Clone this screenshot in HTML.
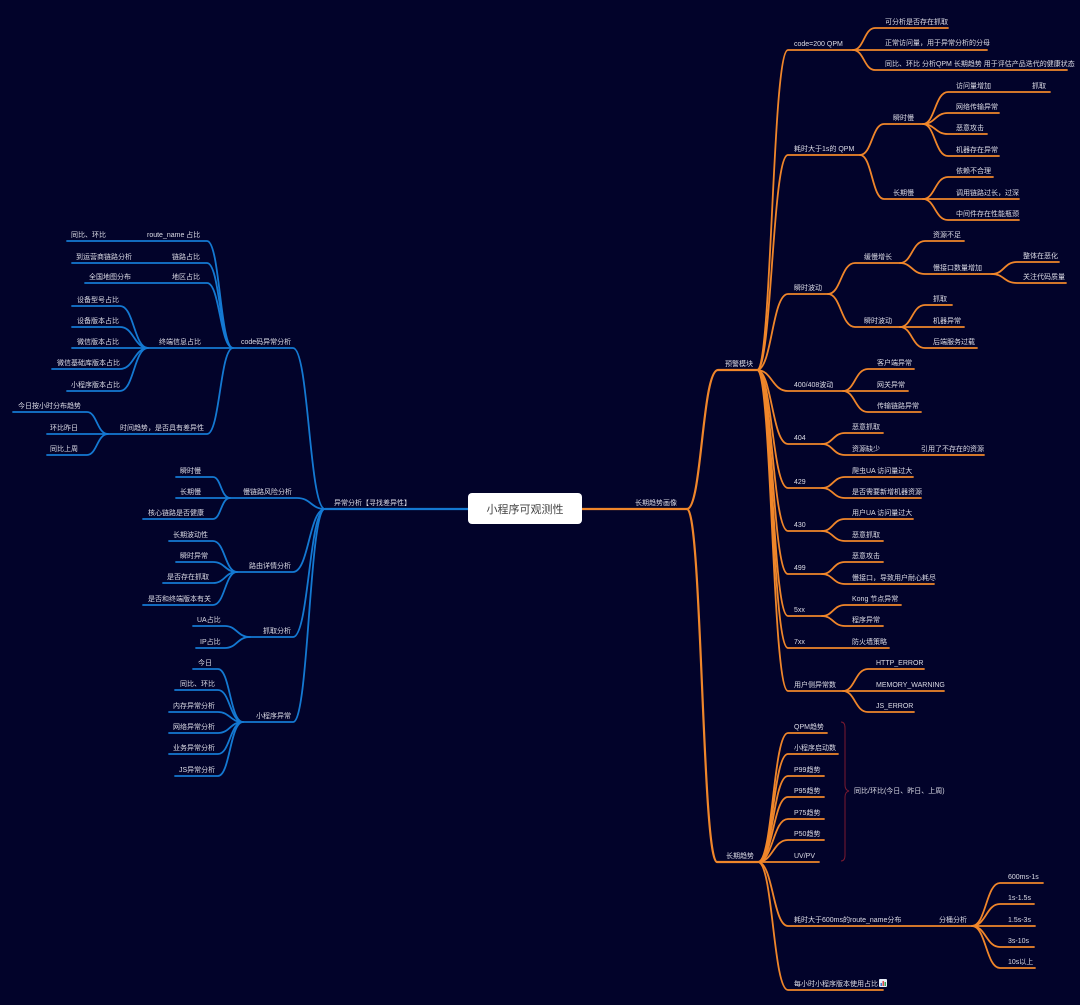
<!DOCTYPE html>
<html><head><meta charset="utf-8">
<style>
html,body{margin:0;padding:0;background:#02032a;}
svg{display:block;}
text{font-family:"Liberation Sans","Noto Sans CJK SC",sans-serif;font-size:7px;fill:#dcdce6;}
.o{fill:none;stroke:#f0862a;stroke-width:1.8;stroke-linecap:round;}
.b{fill:none;stroke:#1479d2;stroke-width:1.8;stroke-linecap:round;}
</style></head>
<body>
<svg width="1080" height="1005" viewBox="0 0 1080 1005" xmlns="http://www.w3.org/2000/svg">
<rect width="1080" height="1005" fill="#02032a"/>

<!-- ORANGE right side -->
<g class="o">
<path d="M582 509 H687" stroke-width="2.2"/>
<path d="M687 509 C702 509 702 370 718 370 H757" stroke-width="2.2"/>
<path d="M687 509 C702 509 702 862 717 862 H758" stroke-width="2.2"/>

<path d="M757 370 C772 370 772 50 788 50 H853"/>
<path d="M757 370 C772 370 772 155 788 155 H860"/>
<path d="M757 370 C772 370 772 294 788 294 H828"/>
<path d="M757 370 C772 370 772 391 788 391 H843"/>
<path d="M757 370 C772 370 772 444 788 444 H822"/>
<path d="M757 370 C772 370 772 488 788 488 H822"/>
<path d="M757 370 C772 370 772 531 788 531 H822"/>
<path d="M757 370 C772 370 772 574 788 574 H822"/>
<path d="M757 370 C772 370 772 616 788 616 H822"/>
<path d="M757 370 C772 370 772 648 788 648 H889"/>
<path d="M757 370 C772 370 772 691 788 691 H843"/>

<path d="M853 50 C864 50 864 28 875 28 H948"/>
<path d="M853 50 H987"/>
<path d="M853 50 C864 50 864 70 875 70 H1067"/>

<path d="M860 155 C872 155 872 124 884 124 H923"/>
<path d="M860 155 C872 155 872 199 884 199 H923"/>
<path d="M923 124 C935 124 935 92 948 92 H1050"/>
<path d="M923 124 C935 124 935 113 948 113 H999"/>
<path d="M923 124 C935 124 935 134 948 134 H987"/>
<path d="M923 124 C935 124 935 156 948 156 H999"/>
<path d="M923 199 C935 199 935 177 948 177 H993"/>
<path d="M923 199 H1019"/>
<path d="M923 199 C935 199 935 220 948 220 H1019"/>

<path d="M828 294 C841 294 841 263 855 263 H900"/>
<path d="M828 294 C841 294 841 327 855 327 H900"/>
<path d="M900 263 C912 263 912 241 925 241 H964"/>
<path d="M900 263 C912 263 912 274 925 274 H992"/>
<path d="M992 274 C1004 274 1004 262 1017 262 H1059"/>
<path d="M992 274 C1004 274 1004 283 1017 283 H1066"/>
<path d="M900 327 C912 327 912 305 925 305 H952"/>
<path d="M900 327 H964"/>
<path d="M900 327 C912 327 912 348 925 348 H977"/>

<path d="M843 391 C855 391 855 369 868 369 H914"/>
<path d="M843 391 H908"/>
<path d="M843 391 C855 391 855 412 868 412 H921"/>

<path d="M822 444 C833 444 833 433 845 433 H883"/>
<path d="M822 444 C833 444 833 455 845 455 H984"/>
<path d="M822 488 C833 488 833 477 845 477 H913"/>
<path d="M822 488 C833 488 833 498 845 498 H921"/>
<path d="M822 531 C833 531 833 519 845 519 H913"/>
<path d="M822 531 C833 531 833 541 845 541 H883"/>
<path d="M822 574 C833 574 833 562 845 562 H883"/>
<path d="M822 574 C833 574 833 584 845 584 H934"/>
<path d="M822 616 C833 616 833 605 845 605 H901"/>
<path d="M822 616 C833 616 833 626 845 626 H883"/>

<path d="M843 691 C855 691 855 669 868 669 H924"/>
<path d="M843 691 H944"/>
<path d="M843 691 C855 691 855 712 868 712 H914"/>

<path d="M758 862 C773 862 773 733 788 733 H827"/>
<path d="M758 862 C773 862 773 754 788 754 H838"/>
<path d="M758 862 C773 862 773 776 788 776 H824"/>
<path d="M758 862 C773 862 773 797 788 797 H824"/>
<path d="M758 862 C773 862 773 819 788 819 H824"/>
<path d="M758 862 C773 862 773 840 788 840 H824"/>
<path d="M758 862 H819"/>
<path d="M758 862 C773 862 773 926 788 926 H972"/>
<path d="M758 862 C773 862 773 990 788 990 H883"/>

<path d="M972 926 C986 926 986 883 1000 883 H1043"/>
<path d="M972 926 C986 926 986 904 1000 904 H1034"/>
<path d="M972 926 H1035"/>
<path d="M972 926 C986 926 986 947 1000 947 H1034"/>
<path d="M972 926 C986 926 986 968 1000 968 H1035"/>
</g>

<!-- brace -->
<path d="M841 722 Q845 722 845 728 L845 785 Q845 790 849 791 Q845 792 845 797 L845 855 Q845 861 841 861" fill="none" stroke="#7a1a30" stroke-width="1"/>

<!-- BLUE left side -->
<g class="b">
<path d="M468 509 H325" stroke-width="2.2"/>
<path d="M325 509 C309 509 309 348 293 348 H233"/>
<path d="M325 509 C311 509 311 498 297 498 H230"/>
<path d="M325 509 C309 509 309 572 293 572 H237"/>
<path d="M325 509 C309 509 309 637 293 637 H250"/>
<path d="M325 509 C309 509 309 722 293 722 H243"/>

<path d="M233 348 C220 348 220 241 207 241 H67"/>
<path d="M233 348 C220 348 220 263 207 263 H72"/>
<path d="M233 348 C220 348 220 283 207 283 H85"/>
<path d="M233 348 H148"/>
<path d="M233 348 C220 348 220 434 207 434 H108"/>

<path d="M148 348 C134 348 134 306 120 306 H72"/>
<path d="M148 348 C134 348 134 327 120 327 H72"/>
<path d="M148 348 H72"/>
<path d="M148 348 C134 348 134 369 120 369 H52"/>
<path d="M148 348 C134 348 134 391 120 391 H67"/>

<path d="M108 434 C97 434 97 412 87 412 H13"/>
<path d="M108 434 H47"/>
<path d="M108 434 C97 434 97 455 87 455 H47"/>

<path d="M230 498 C221 498 221 477 213 477 H176"/>
<path d="M230 498 H176"/>
<path d="M230 498 C221 498 221 519 213 519 H143"/>

<path d="M237 572 C225 572 225 541 213 541 H169"/>
<path d="M237 572 C225 572 225 562 213 562 H176"/>
<path d="M237 572 C225 572 225 583 213 583 H163"/>
<path d="M237 572 C225 572 225 605 213 605 H143"/>

<path d="M250 637 C237 637 237 626 225 626 H193"/>
<path d="M250 637 C237 637 237 648 225 648 H196"/>

<path d="M243 722 C230 722 230 669 218 669 H193"/>
<path d="M243 722 C230 722 230 690 218 690 H175"/>
<path d="M243 722 C230 722 230 712 218 712 H169"/>
<path d="M243 722 C230 722 230 733 218 733 H169"/>
<path d="M243 722 C230 722 230 754 218 754 H169"/>
<path d="M243 722 C230 722 230 776 218 776 H175"/>
</g>

<!-- root -->
<rect x="468" y="493" width="114" height="31" rx="4" fill="#ffffff"/>
<text x="525" y="513" text-anchor="middle" style="font-size:11px;fill:#444444;">小程序可观测性</text>

<!-- right texts -->
<text x="635" y="505">长期趋势画像</text>
<text x="725" y="366">预警模块</text>
<text x="726" y="858">长期趋势</text>

<text x="794" y="46">code=200 QPM</text>
<text x="885" y="24">可分析是否存在抓取</text>
<text x="885" y="45">正常访问量，用于异常分析的分母</text>
<text x="885" y="66">同比、环比 分析QPM 长期趋势 用于评估产品迭代的健康状态</text>

<text x="794" y="151">耗时大于1s的 QPM</text>
<text x="893" y="120">瞬时慢</text>
<text x="956" y="88">访问量增加</text>
<text x="1032" y="88">抓取</text>
<text x="956" y="109">网络传输异常</text>
<text x="956" y="130">恶意攻击</text>
<text x="956" y="152">机器存在异常</text>
<text x="893" y="195">长期慢</text>
<text x="956" y="173">依赖不合理</text>
<text x="956" y="195">调用链路过长，过深</text>
<text x="956" y="216">中间件存在性能瓶颈</text>

<text x="794" y="290">瞬时波动</text>
<text x="864" y="259">缓慢增长</text>
<text x="933" y="237">资源不足</text>
<text x="933" y="270">慢接口数量增加</text>
<text x="1023" y="258">整体在恶化</text>
<text x="1023" y="279">关注代码质量</text>
<text x="864" y="323">瞬时波动</text>
<text x="933" y="301">抓取</text>
<text x="933" y="323">机器异常</text>
<text x="933" y="344">后端服务过载</text>

<text x="794" y="387">400/408波动</text>
<text x="877" y="365">客户端异常</text>
<text x="877" y="387">网关异常</text>
<text x="877" y="408">传输链路异常</text>

<text x="794" y="440">404</text>
<text x="852" y="429">恶意抓取</text>
<text x="852" y="451">资源缺少</text>
<text x="921" y="451">引用了不存在的资源</text>

<text x="794" y="484">429</text>
<text x="852" y="473">爬虫UA 访问量过大</text>
<text x="852" y="494">是否需要新增机器资源</text>

<text x="794" y="527">430</text>
<text x="852" y="515">用户UA 访问量过大</text>
<text x="852" y="537">恶意抓取</text>

<text x="794" y="570">499</text>
<text x="852" y="558">恶意攻击</text>
<text x="852" y="580">慢接口，导致用户耐心耗尽</text>

<text x="794" y="612">5xx</text>
<text x="852" y="601">Kong 节点异常</text>
<text x="852" y="622">程序异常</text>

<text x="794" y="644">7xx</text>
<text x="852" y="644">防火墙策略</text>

<text x="794" y="687">用户侧异常数</text>
<text x="876" y="665">HTTP_ERROR</text>
<text x="876" y="687">MEMORY_WARNING</text>
<text x="876" y="708">JS_ERROR</text>

<text x="794" y="729">QPM趋势</text>
<text x="794" y="750">小程序启动数</text>
<text x="794" y="772">P99趋势</text>
<text x="794" y="793">P95趋势</text>
<text x="794" y="815">P75趋势</text>
<text x="794" y="836">P50趋势</text>
<text x="794" y="858">UV/PV</text>
<text x="854" y="793">同比/环比(今日、昨日、上周)</text>

<text x="794" y="922">耗时大于600ms的route_name分布</text>
<text x="939" y="922">分桶分析</text>
<text x="1008" y="879">600ms-1s</text>
<text x="1008" y="900">1s-1.5s</text>
<text x="1008" y="922">1.5s-3s</text>
<text x="1008" y="943">3s-10s</text>
<text x="1008" y="964">10s以上</text>

<text x="794" y="986">每小时小程序版本使用占比</text>
<g>
<rect x="879" y="979" width="8" height="8" rx="1" fill="#e8eef8"/>
<rect x="880.5" y="983" width="1.5" height="3" fill="#3a7bd5"/>
<rect x="882.5" y="981" width="1.5" height="5" fill="#d84a4a"/>
<rect x="884.5" y="982" width="1.5" height="4" fill="#3aa55a"/>
</g>

<!-- left texts -->
<text x="334" y="505">异常分析【寻找差异性】</text>
<text x="241" y="344">code码异常分析</text>
<text x="147" y="237">route_name 占比</text>
<text x="71" y="237">同比、环比</text>
<text x="172" y="259">链路占比</text>
<text x="76" y="259">到运营商链路分析</text>
<text x="172" y="279">地区占比</text>
<text x="89" y="279">全国地图分布</text>
<text x="159" y="344">终端信息占比</text>
<text x="77" y="302">设备型号占比</text>
<text x="77" y="323">设备版本占比</text>
<text x="77" y="344">微信版本占比</text>
<text x="57" y="365">微信基础库版本占比</text>
<text x="71" y="387">小程序版本占比</text>
<text x="120" y="430">时间趋势，是否具有差异性</text>
<text x="18" y="408">今日按小时分布趋势</text>
<text x="50" y="430">环比昨日</text>
<text x="50" y="451">同比上周</text>

<text x="243" y="494">慢链路风险分析</text>
<text x="180" y="473">瞬时慢</text>
<text x="180" y="494">长期慢</text>
<text x="148" y="515">核心链路是否健康</text>

<text x="249" y="568">路由详情分析</text>
<text x="173" y="537">长期波动性</text>
<text x="180" y="558">瞬时异常</text>
<text x="167" y="579">是否存在抓取</text>
<text x="148" y="601">是否和终端版本有关</text>

<text x="263" y="633">抓取分析</text>
<text x="197" y="622">UA占比</text>
<text x="200" y="644">IP占比</text>

<text x="256" y="718">小程序异常</text>
<text x="198" y="665">今日</text>
<text x="180" y="686">同比、环比</text>
<text x="173" y="708">内存异常分析</text>
<text x="173" y="729">网络异常分析</text>
<text x="173" y="750">业务异常分析</text>
<text x="179" y="772">JS异常分析</text>
</svg>
</body></html>
